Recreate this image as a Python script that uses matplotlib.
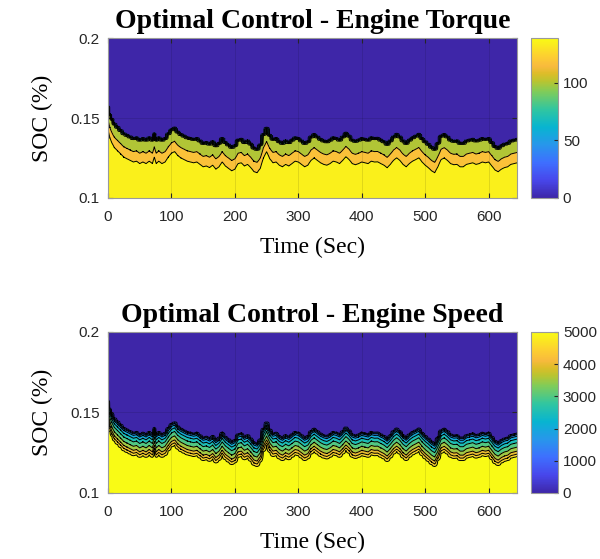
import numpy as np
import matplotlib
matplotlib.use("Agg")
import matplotlib.pyplot as plt
from matplotlib.colors import LinearSegmentedColormap, Normalize
from matplotlib.cm import ScalarMappable

# SOC edge above which the engine is off
time_s = [0, 3, 6, 10, 15, 20, 25, 30, 35, 40, 45, 50, 55, 60, 65, 70, 73, 76, 80, 85,
          90, 95, 100, 105, 110, 115, 120, 125, 130, 135, 140, 145, 150, 155, 160, 165,
          170, 175, 180, 185, 190, 195, 200, 205, 210, 215, 220, 225, 230, 235, 240, 245,
          250, 255, 260, 265, 270, 275, 280, 285, 290, 295, 300, 305, 310, 315, 320, 325,
          330, 335, 340, 345, 350, 355, 360, 365, 370, 375, 380, 385, 390, 395, 400, 405,
          410, 415, 420, 425, 430, 435, 440, 445, 450, 455, 460, 465, 470, 475, 480, 485,
          490, 495, 500, 505, 510, 515, 520, 525, 530, 535, 540, 545, 550, 555, 560, 565,
          570, 575, 580, 585, 590, 595, 600, 605, 610, 615, 620, 625, 630, 635, 640, 645]
soc_edge = [0.158, 0.153, 0.150, 0.147, 0.145, 0.143, 0.141, 0.140, 0.139, 0.138, 0.1385,
            0.137, 0.138, 0.137, 0.1385, 0.137, 0.141, 0.137, 0.1385, 0.137, 0.138, 0.141,
            0.1435, 0.1445, 0.142, 0.1405, 0.1395, 0.1385, 0.138, 0.1375, 0.138, 0.1365,
            0.135, 0.1355, 0.1345, 0.136, 0.1335, 0.135, 0.138, 0.1355, 0.134, 0.1325,
            0.1335, 0.137, 0.1375, 0.1355, 0.1365, 0.1345, 0.132, 0.1313, 0.134, 0.1405,
            0.1444, 0.140, 0.1375, 0.138, 0.136, 0.135, 0.1365, 0.1355, 0.137, 0.1385,
            0.138, 0.1365, 0.135, 0.136, 0.139, 0.1405, 0.139, 0.1375, 0.1365, 0.136,
            0.137, 0.1385, 0.138, 0.137, 0.139, 0.1413, 0.1395, 0.137, 0.1363, 0.137,
            0.138, 0.1375, 0.137, 0.1385, 0.138, 0.1381, 0.137, 0.136, 0.1344, 0.1365,
            0.139, 0.1406, 0.139, 0.1365, 0.135, 0.137, 0.1385, 0.1395, 0.1406, 0.138,
            0.136, 0.1344, 0.1325, 0.1313, 0.135, 0.1395, 0.1405, 0.139, 0.137, 0.1363,
            0.1365, 0.135, 0.135, 0.1365, 0.137, 0.1375, 0.1365, 0.137, 0.138, 0.1375,
            0.138, 0.1355, 0.133, 0.1319, 0.1335, 0.1345, 0.135, 0.1365, 0.137, 0.1375]

# engine torque vs depth below the edge
torque_depth = [0, 0.0015, 0.009, 0.0155, 0.021]
torque_value = [0, 90, 110, 125, 139]
torque_levels = [-10, 10, 30, 50, 70, 90, 110, 125, 145]
torque_ticks = [0, 50, 100]

# engine speed vs depth below the edge
speed_depth = [0, 0.0015, 0.003, 0.005, 0.0075, 0.0105, 0.0125, 0.0135, 0.015, 0.02]
speed_value = [0, 1500, 2000, 2500, 3000, 3500, 4000, 4300, 4800, 5000]
speed_levels = [-250, 250, 750, 1250, 1750, 2250, 2750, 3250, 3750, 4250, 4750, 5250]
speed_ticks = [0, 1000, 2000, 3000, 4000, 5000]

parula = LinearSegmentedColormap.from_list("parula", [
    (0.000, (0.2422, 0.1504, 0.6603)),
    (0.111, (0.2803, 0.2782, 0.9221)),
    (0.222, (0.2440, 0.4358, 0.9988)),
    (0.333, (0.1540, 0.5902, 0.9218)),
    (0.444, (0.0297, 0.7082, 0.8163)),
    (0.556, (0.1938, 0.7758, 0.6251)),
    (0.667, (0.5044, 0.7993, 0.3480)),
    (0.730, (0.7242, 0.7698, 0.1910)),
    (0.778, (0.8634, 0.7406, 0.1596)),
    (0.825, (0.9728, 0.7298, 0.2394)),
    (0.889, (0.9892, 0.8136, 0.1885)),
    (1.000, (0.9769, 0.9839, 0.0805)),
])

serif = "Liberation Serif"
sans = "Liberation Sans"

fig = plt.figure(figsize=(6.0, 5.59), dpi=100)

soc_grid = np.linspace(0.1, 0.2, 1201)
T, S = np.meshgrid(time_s, soc_grid)
edge = np.array(soc_edge)[None, :]


def panel(ax_rect, cb_rect, depth, value, levels, vmax, cticks, title):
    ax = fig.add_axes(ax_rect)
    cax = fig.add_axes(cb_rect)
    Z = np.interp(edge - S, depth, value)
    norm = Normalize(0, vmax)
    ax.contourf(T, S, Z, levels=levels, cmap=parula, norm=norm)
    ax.contour(T, S, Z, levels=levels[1:-1], colors="k", linewidths=0.7)
    ax.set_xlim(0, 645)
    ax.set_ylim(0.1, 0.2)
    ax.set_xticks([0, 100, 200, 300, 400, 500, 600])
    ax.set_yticks([0.1, 0.15, 0.2])
    ax.set_yticklabels(["0.1", "0.15", "0.2"])
    ax.grid(True, color="k", alpha=0.12, linewidth=0.6)
    ax.tick_params(direction="in", top=True, right=True, length=3.5,
                   labelsize=11, colors="#262626")
    ax.tick_params(axis="x", pad=9)
    ax.tick_params(axis="y", pad=6)
    for lab in ax.get_xticklabels() + ax.get_yticklabels():
        lab.set_fontfamily(sans)
    for sp in ax.spines.values():
        sp.set_color("#9a9a9a")
        sp.set_linewidth(0.8)
    ax.set_title(title, fontfamily=serif, fontweight="bold", fontsize=20, pad=7)
    ax.set_xlabel("Time (Sec)", fontfamily=serif, fontsize=17, labelpad=9)
    ax.set_ylabel("SOC (%)", fontfamily=serif, fontsize=17, labelpad=12)

    cb = fig.colorbar(ScalarMappable(norm=norm, cmap=parula), cax=cax, ticks=cticks)
    cb.outline.set_edgecolor("#9a9a9a")
    cb.outline.set_linewidth(0.8)
    cax.tick_params(direction="in", length=3, labelsize=11, colors="#262626")
    for lab in cax.get_yticklabels():
        lab.set_fontfamily(sans)


panel([0.18, 0.6458, 0.682, 0.2862], [0.885, 0.6458, 0.045, 0.2862],
      torque_depth, torque_value, torque_levels, 139, torque_ticks,
      "Optimal Control - Engine Torque")
panel([0.18, 0.1181, 0.682, 0.288], [0.885, 0.1181, 0.045, 0.288],
      speed_depth, speed_value, speed_levels, 5000, speed_ticks,
      "Optimal Control - Engine Speed")

fig.savefig("out.png", dpi=100)
